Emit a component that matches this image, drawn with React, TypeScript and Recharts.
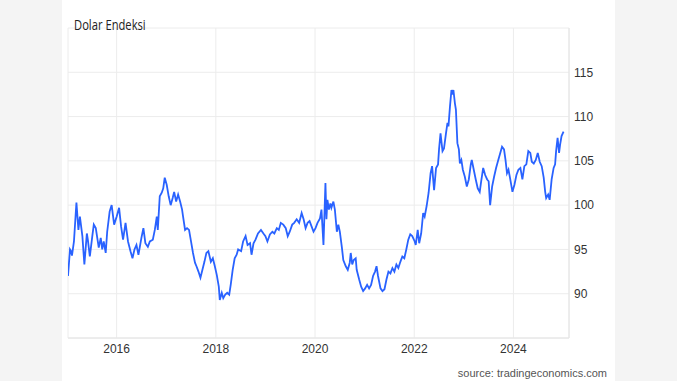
import { LineChart, Line, XAxis, YAxis, CartesianGrid } from "recharts";

// decimal years
const dates = [
  2015.02, 2015.06, 2015.08, 2015.1, 2015.14, 2015.19, 2015.23, 2015.26, 2015.31, 2015.35,
  2015.4, 2015.42, 2015.46, 2015.51, 2015.54, 2015.58, 2015.64, 2015.68, 2015.71, 2015.74,
  2015.78, 2015.81, 2015.86, 2015.9, 2015.95, 2016.0, 2016.05, 2016.09, 2016.13, 2016.18,
  2016.23, 2016.28, 2016.32, 2016.36, 2016.4, 2016.44, 2016.5, 2016.54, 2016.58, 2016.63,
  2016.67, 2016.73, 2016.77, 2016.81, 2016.83, 2016.87, 2016.91, 2016.94, 2016.97, 2017.01,
  2017.05, 2017.09, 2017.13, 2017.16, 2017.2, 2017.24, 2017.28, 2017.32, 2017.34, 2017.38,
  2017.42, 2017.46, 2017.5, 2017.54, 2017.58, 2017.61, 2017.65, 2017.69, 2017.73, 2017.77,
  2017.81, 2017.85, 2017.9, 2017.94, 2017.98, 2018.02, 2018.06, 2018.08, 2018.12, 2018.15,
  2018.19, 2018.23, 2018.27, 2018.3, 2018.34, 2018.38, 2018.42, 2018.45, 2018.51, 2018.55,
  2018.6, 2018.64, 2018.69, 2018.72, 2018.76, 2018.8, 2018.85, 2018.91, 2018.96, 2019.0,
  2019.04, 2019.09, 2019.14, 2019.18, 2019.23, 2019.27, 2019.31, 2019.36, 2019.41, 2019.45,
  2019.49, 2019.54, 2019.58, 2019.63, 2019.68, 2019.73, 2019.77, 2019.81, 2019.85, 2019.89,
  2019.93, 2019.97, 2020.01, 2020.05, 2020.1, 2020.13, 2020.17, 2020.21, 2020.23, 2020.25,
  2020.28, 2020.31, 2020.33, 2020.37, 2020.4, 2020.44, 2020.47, 2020.5, 2020.54, 2020.57,
  2020.62, 2020.66, 2020.7, 2020.72, 2020.75, 2020.78, 2020.82, 2020.84, 2020.89, 2020.93,
  2020.97, 2021.01, 2021.05, 2021.09, 2021.13, 2021.17, 2021.21, 2021.24, 2021.27, 2021.32,
  2021.36, 2021.4, 2021.44, 2021.48, 2021.52, 2021.56, 2021.6, 2021.64, 2021.68, 2021.72,
  2021.76, 2021.8, 2021.84, 2021.88, 2021.92, 2021.96, 2022.01, 2022.03, 2022.07, 2022.1,
  2022.14, 2022.18, 2022.21, 2022.25, 2022.29, 2022.33, 2022.36, 2022.4, 2022.44, 2022.48,
  2022.5, 2022.53, 2022.57, 2022.6, 2022.64, 2022.67, 2022.69, 2022.72, 2022.75, 2022.77,
  2022.79, 2022.82, 2022.84, 2022.87, 2022.9, 2022.92, 2022.95, 2022.98, 2023.02, 2023.06,
  2023.1, 2023.14, 2023.16, 2023.2, 2023.24, 2023.28, 2023.32, 2023.35, 2023.39, 2023.43,
  2023.47, 2023.5, 2023.53, 2023.57, 2023.61, 2023.65, 2023.69, 2023.73, 2023.77, 2023.81,
  2023.84, 2023.87, 2023.9, 2023.93, 2023.98, 2024.02, 2024.06, 2024.1, 2024.14, 2024.18,
  2024.22, 2024.26, 2024.3, 2024.34, 2024.37, 2024.41, 2024.45, 2024.49, 2024.53, 2024.57,
  2024.61, 2024.64, 2024.66, 2024.7, 2024.73, 2024.77, 2024.81, 2024.84, 2024.86, 2024.89,
  2024.92, 2024.94, 2024.97, 2025.01,
];

const values = [
  92.0, 95.0, 94.8, 94.3, 95.9, 100.3, 97.2, 98.7, 96.5, 93.3,
  96.8, 96.1, 94.2, 96.5, 97.8, 97.4, 95.2, 96.3, 95.0, 95.9,
  94.6, 97.0, 99.3, 100.0, 97.8, 98.7, 99.7, 97.6, 96.1, 98.0,
  95.9, 94.8, 94.0, 95.0, 95.5, 94.4, 96.3, 97.4, 95.7, 95.3,
  95.9, 96.1, 97.2, 98.7, 97.2, 101.0, 101.4, 101.9, 103.1, 102.3,
  101.0, 100.0, 100.8, 101.5, 100.4, 101.2, 100.4, 99.5, 98.7, 97.2,
  97.4, 97.2, 95.9, 94.6, 93.5, 93.1, 92.5, 91.8, 92.7, 93.6,
  94.6, 94.8, 93.6, 94.0, 93.1, 92.1, 90.8, 89.3, 90.1, 89.5,
  89.9, 90.1, 89.9, 91.0, 92.7, 94.0, 94.4, 95.0, 94.8, 95.9,
  96.5, 95.5, 95.7, 94.4, 95.7, 96.1, 96.8, 97.2, 96.8, 96.5,
  95.9, 96.7, 97.0, 96.8, 97.4, 97.2, 98.0, 97.8, 97.4, 96.5,
  97.0, 97.8, 98.0, 98.4, 98.0, 99.1, 98.4, 97.4, 98.0, 98.2,
  97.6, 97.0, 97.4, 98.0, 98.5, 99.5, 95.5, 102.5, 98.4, 100.6,
  99.5, 100.2, 99.7, 100.4, 99.5, 97.0, 97.8, 97.0, 95.3, 93.8,
  93.1, 92.7, 93.5, 94.6, 93.3, 93.8, 94.0, 92.7, 91.6, 90.8,
  90.3, 90.6, 91.0, 90.6, 91.0, 92.0, 92.5, 93.1, 92.0, 90.6,
  90.3, 90.5, 91.6, 92.5, 92.3, 92.9, 92.5, 93.3, 92.9, 93.6,
  94.2, 94.0, 95.0, 96.1, 96.7, 96.5, 95.9, 95.5, 97.2, 95.7,
  96.8, 99.1, 98.7, 99.9, 101.4, 103.6, 104.4, 101.7, 104.2, 104.6,
  106.3, 108.1, 106.1, 106.4, 108.1, 109.3, 108.9, 111.1, 113.0, 112.7,
  113.0, 111.5, 110.8, 107.0, 106.3, 104.7, 105.1, 104.0, 103.2, 102.1,
  102.9, 104.6, 105.1, 104.0, 102.9, 101.9, 101.5, 102.7, 104.2, 103.4,
  102.9, 102.7, 100.0, 102.1, 103.2, 104.2, 105.0, 105.8, 106.6, 106.3,
  105.1, 103.6, 104.0, 103.1, 101.5, 102.3, 103.4, 104.0, 104.2, 102.9,
  104.4, 104.6, 106.1, 105.9, 104.9, 104.7, 105.1, 105.9, 104.9, 104.4,
  103.1, 101.5, 100.8, 101.2, 100.6, 102.9, 104.2, 104.6, 106.1, 107.6,
  105.9, 106.8, 107.8, 108.3,
];

const xTicks = [2016, 2018, 2020, 2022, 2024];
const xDomain = [2015.02, 2025.12];
const yTicks = [85, 90, 95, 100, 105, 110, 115, 120];
const yLabelled = [90, 95, 100, 105, 110, 115];

const data = dates.map((d, i) => ({ date: d, value: values[i] }));

const tickStyle = { fontSize: 12, fill: "#333", fontFamily: "'Liberation Sans', Arial, sans-serif" };

export default function App() {
  return (
    <div style={{ position: "absolute", left: 0, top: 0, width: 677, height: 381, background: "#f4f4f4", overflow: "hidden" }}>
      <div style={{ position: "absolute", left: 62, top: 0, width: 553, height: 381, background: "#fff" }} />
      <div style={{ position: "absolute", left: 0, top: 0 }}>
        <LineChart width={677} height={381} data={data} margin={{ top: 28, right: 68, bottom: 13, left: 68 }}>
          <CartesianGrid stroke="#ececec" />
          <XAxis
            dataKey="date"
            type="number"
            domain={xDomain}
            allowDataOverflow
            ticks={xTicks}
            height={30}
            axisLine={{ stroke: "#e4e4e4" }}
            tickLine={false}
            tickSize={4}
            tickMargin={2}
            tick={tickStyle}
          />
          <YAxis
            orientation="right"
            type="number"
            domain={[85, 120]}
            allowDataOverflow
            ticks={yTicks}
            tickFormatter={(v: number) => (yLabelled.includes(v) ? String(v) : "")}
            width={40}
            axisLine={{ stroke: "#e4e4e4" }}
            tickLine={false}
            tickSize={3}
            tickMargin={2}
            tick={tickStyle}
          />
          <Line type="linear" dataKey="value" stroke="#2962ff" strokeWidth={1.8} dot={false} isAnimationActive={false} />
        </LineChart>
      </div>
      <div
        style={{
          position: "absolute", left: 74, top: 17, fontSize: 14, lineHeight: "16px", color: "#222",
          fontFamily: "'Open Sans', sans-serif", transform: "scaleX(0.8)", transformOrigin: "left top", whiteSpace: "nowrap",
        }}
      >
        Dolar Endeksi
      </div>
      <div
        style={{
          position: "absolute", right: 70, top: 366, fontSize: 11, lineHeight: "14px", color: "#555",
          fontFamily: "'Liberation Sans', Arial, sans-serif", whiteSpace: "nowrap",
        }}
      >
        source: tradingeconomics.com
      </div>
    </div>
  );
}
